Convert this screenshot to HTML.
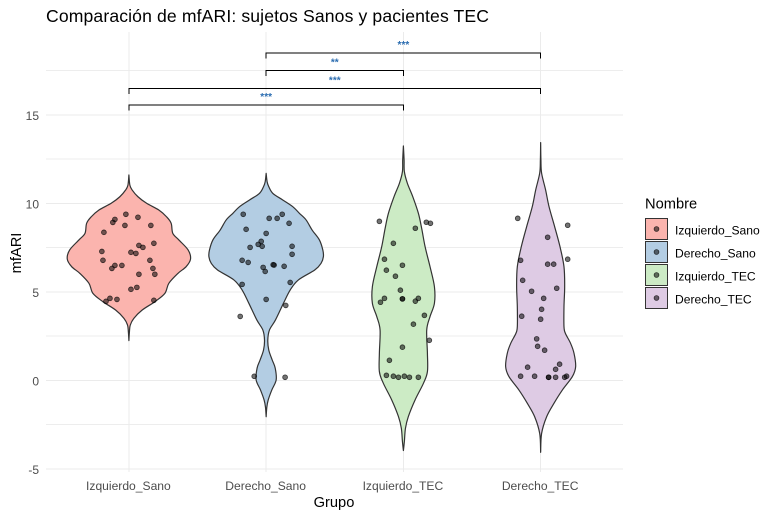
<!DOCTYPE html>
<html>
<head>
<meta charset="utf-8">
<title>Comparación de mfARI</title>
<style>
html,body{margin:0;padding:0;background:#fff;}
svg{display:block;font-family:"Liberation Sans",Arial,sans-serif;}
</style>
</head>
<body>
<svg id="chart" xmlns="http://www.w3.org/2000/svg" width="776" height="517" viewBox="0 0 776 517">
<rect x="0" y="0" width="776" height="517" fill="#ffffff"/>
<text x="46" y="22" font-size="17.6" fill="#000" textLength="443" lengthAdjust="spacing">Comparación de mfARI: sujetos Sanos y pacientes TEC</text>
<text x="334" y="507" font-size="14.67" fill="#000" text-anchor="middle">Grupo</text>
<text transform="translate(21,253) rotate(-90)" font-size="14.67" fill="#000" text-anchor="middle">mfARI</text>
<text x="645" y="208.5" font-size="14.67" fill="#000">Nombre</text>
<g id="grid" shape-rendering="crispEdges"></g>
<g id="violins"></g>
<g id="points"></g>
<g id="brackets"></g>
<g id="ticks"></g>
<g id="legend"></g>
</svg>
<script>
const categories = ["Izquierdo_Sano", "Derecho_Sano", "Izquierdo_TEC", "Derecho_TEC"];
const fills = ["#FBB4AE", "#B3CDE3", "#CCEBC5", "#DECBE4"];
const yMajorTicks = [-5, 0, 5, 10, 15];
const yMinorTicks = [-2.5, 2.5, 7.5, 12.5, 17.5];

const violinLevels1 = [11.6,11.03,10.75,10.37,10,9.62,9.24,8.87,8.3,7.93,7.36,6.85,6.42,6.04,5.48,4.91,4.44,3.97,3.5,3.12,2.75,2.24];
const violinWidths1 = [0,.007,.024,.066,.129,.218,.274,.308,.32,.364,.432,.449,.417,.357,.291,.262,.189,.097,.036,.01,.004,0];
const violinLevels2 = [11.69,11.22,10.94,10.56,10.19,9.81,9.43,9.06,8.49,7.93,7.36,6.98,6.61,6.23,5.67,5.1,4.35,3.41,2.84,2.28,1.71,1.15,.69,.02,-.55,-1.11,-1.51,-2.06];
const violinWidths2 = [0,.007,.019,.049,.121,.194,.243,.291,.335,.388,.413,.417,.4,.354,.235,.175,.126,.068,.024,.012,.019,.044,.066,.073,.041,.015,.005,0];
const violinLevels3 = [13.24,12.45,11.79,11.13,10.38,9.44,8.59,7.55,6.42,5.29,4.35,3.6,2.85,1.53,.49,-.17,-1.11,-2.05,-2.71,-3.46,-3.97];
const violinWidths3 = [0,.005,.007,.029,.068,.109,.133,.158,.194,.226,.226,.194,.17,.175,.175,.146,.085,.036,.015,.007,0];
const violinLevels4 = [13.43,12.45,11.7,10.76,9.81,8.68,7.55,6.42,5.29,4.16,3.03,2.66,2.09,1.53,.77,.21,-.55,-1.3,-2.05,-3,-4.07];
const violinWidths4 = [0,.002,.007,.036,.061,.102,.141,.17,.175,.17,.17,.18,.218,.243,.255,.231,.158,.097,.044,.007,0];

const jitter1 = [-.022,.066,-.102,-.117,-.029,.160,-.182,.182,.073,.102,-.197,.015,.051,-.189,.153,-.102,-.051,-.124,.175,.073,.189,.058,.015,-.138,-.087,-.167,.182];
const values1 = [9.38,9.21,9.09,8.92,8.75,8.75,8.36,7.74,7.62,7.51,7.28,7.23,7.17,6.78,6.78,6.49,6.49,6.32,6.32,5.99,5.99,5.25,5.14,4.63,4.57,4.46,4.52];
const jitter2 = [-.167,.117,.022,.08,.167,-.146,0,-.036,-.058,-.029,-.117,.189,.189,-.175,-.131,.051,.058,-.022,.131,-.007,.175,-.175,0,.143,-.189,-.087,.138];
const values2 = [9.38,9.38,9.15,9.15,8.87,8.53,8.30,7.85,7.68,7.57,7.51,7.57,7.12,6.78,6.66,6.53,6.51,6.38,6.44,6.15,5.53,5.42,4.57,4.23,3.61,.226,.17];
const jitter3 = [-.175,.167,.197,.087,-.073,-.138,-.007,-.124,-.058,-.022,-.138,.109,-.007,-.007,.087,-.167,.153,.073,.189,-.007,-.102,-.124,-.073,-.036,.007,.044,.109];
const values3 = [8.98,8.93,8.87,8.59,7.74,6.84,6.5,6.22,5.88,5.09,4.63,4.63,4.6,4.6,4.47,4.41,3.67,3.17,2.26,1.87,1.13,.28,.23,.17,.23,.17,.17];
const jitter4 = [-.167,.197,.051,-.146,.197,.051,.095,-.131,.117,-.066,.022,.007,-.138,0,-.029,-.022,.029,.138,-.095,.109,-.146,-.044,.058,.058,.109,.175,.189];
const values4 = [9.15,8.76,8.08,6.78,6.84,6.56,6.56,5.65,5.2,5.03,4.63,4.01,3.62,3.45,2.34,1.92,1.7,.91,.74,.62,.23,.23,.17,.17,.17,.17,.23];

const bracketStart = [0, 0, 1, 1];
const bracketEnd = [2, 3, 2, 3];
const bracketLevels = [15.54, 16.5, 17.5, 18.5];
const bracketLabels = ["***", "***", "**", "***"];

const violinLevels = [violinLevels1, violinLevels2, violinLevels3, violinLevels4];
const violinWidths = [violinWidths1, violinWidths2, violinWidths3, violinWidths4];
const jitters = [jitter1, jitter2, jitter3, jitter4];
const values = [values1, values2, values3, values4];

const NS = "http://www.w3.org/2000/svg";
const xScale = function (c) { return 128.9 + 137.25 * c; };
const yScale = function (v) { return 380.3 - 17.7 * v; };

function make(parent, tag, attrs, text) {
  const el = document.createElementNS(NS, tag);
  for (const k in attrs) el.setAttribute(k, attrs[k]);
  if (text !== undefined) el.textContent = text;
  parent.appendChild(el);
  return el;
}

function spline(pts, start) {
  let d = (start ? "M" : "L") + pts[0][0].toFixed(2) + " " + pts[0][1].toFixed(2);
  for (let i = 0; i < pts.length - 1; i++) {
    const p0 = pts[Math.max(i - 1, 0)], p1 = pts[i], p2 = pts[i + 1], p3 = pts[Math.min(i + 2, pts.length - 1)];
    const c1x = p1[0] + (p2[0] - p0[0]) / 6, c1y = p1[1] + (p2[1] - p0[1]) / 6;
    const c2x = p2[0] - (p3[0] - p1[0]) / 6, c2y = p2[1] - (p3[1] - p1[1]) / 6;
    d += "C" + c1x.toFixed(2) + " " + c1y.toFixed(2) + " " + c2x.toFixed(2) + " " + c2y.toFixed(2) + " " + p2[0].toFixed(2) + " " + p2[1].toFixed(2);
  }
  return d;
}

const gridG = document.getElementById("grid");
yMinorTicks.forEach(function (v) {
  const el = make(gridG, "line", { x1: 46, x2: 623, y1: yScale(v), y2: yScale(v), stroke: "#EDEDED", "stroke-width": 1 });
  
  
});
yMajorTicks.forEach(function (v) {
  const el = make(gridG, "line", { x1: 46, x2: 623, y1: yScale(v), y2: yScale(v), stroke: "#EBEBEB", "stroke-width": 1 });
  
  
});
categories.forEach(function (c, i) {
  const el = make(gridG, "line", { x1: xScale(i), x2: xScale(i), y1: 32, y2: 472, stroke: "#EBEBEB", "stroke-width": 1 });
  
  
});

const violinG = document.getElementById("violins");
categories.forEach(function (c, i) {
  const right = violinLevels[i].map(function (v, k) { return [xScale(i + violinWidths[i][k]), yScale(v)]; });
  const left = violinLevels[i].map(function (v, k) { return [xScale(i - violinWidths[i][k]), yScale(v)]; }).reverse();
  const d = spline(right, true) + spline(left, false) + "Z";
  const el = make(violinG, "path", { d: d, fill: fills[i], stroke: "#333333", "stroke-width": 1.2, "stroke-linejoin": "round" });
  
  
});

const pointG = document.getElementById("points");
categories.forEach(function (c, i) {
  values[i].forEach(function (v, k) {
    const el = make(pointG, "circle", { cx: xScale(i + jitters[i][k]), cy: yScale(v), r: 2.4, fill: "#000", "fill-opacity": 0.55, stroke: "#000", "stroke-opacity": 0.7, "stroke-width": 0.8 });
    
    
  });
});

const bracketG = document.getElementById("brackets");
bracketLevels.forEach(function (lvl, i) {
  const x1 = xScale(bracketStart[i]), x2 = xScale(bracketEnd[i]), y = yScale(lvl);
  const path = make(bracketG, "path", { d: "M" + x1 + " " + (y + 5.5) + "V" + y + "H" + x2 + "V" + (y + 5.5), fill: "none", stroke: "#000", "stroke-width": 1, "shape-rendering": "crispEdges" });
  
  
  const t = make(bracketG, "text", { x: (x1 + x2) / 2, y: y - 5, "font-size": 10, "font-weight": "bold", fill: "#2A6CB0", "text-anchor": "middle" }, bracketLabels[i]);
  
  
});

const tickG = document.getElementById("ticks");
yMajorTicks.forEach(function (v) {
  const t = make(tickG, "text", { x: 39, y: yScale(v) + 5, "font-size": 12, fill: "#4D4D4D", "text-anchor": "end" }, String(v));
  
  
});
categories.forEach(function (c, i) {
  const t = make(tickG, "text", { x: xScale(i) - 0.5, y: 490, "font-size": 12.1, fill: "#4D4D4D", "text-anchor": "middle" }, c);
  
  
});

const legendG = document.getElementById("legend");
categories.forEach(function (c, i) {
  const top = 218.5 + 23 * i;
  const r = make(legendG, "rect", { x: 645.5, y: top, width: 22, height: 21, fill: fills[i], stroke: "#333333", "stroke-width": 1, "shape-rendering": "crispEdges" });
  
  
  const p = make(legendG, "circle", { cx: 656.5, cy: top + 10.5, r: 2.4, fill: "#000", "fill-opacity": 0.55, stroke: "#000", "stroke-opacity": 0.7, "stroke-width": 0.8 });
  
  
  const t = make(legendG, "text", { x: 675, y: top + 16, "font-size": 12.1, fill: "#000" }, c);
  
  
});
</script>
</body>
</html>
